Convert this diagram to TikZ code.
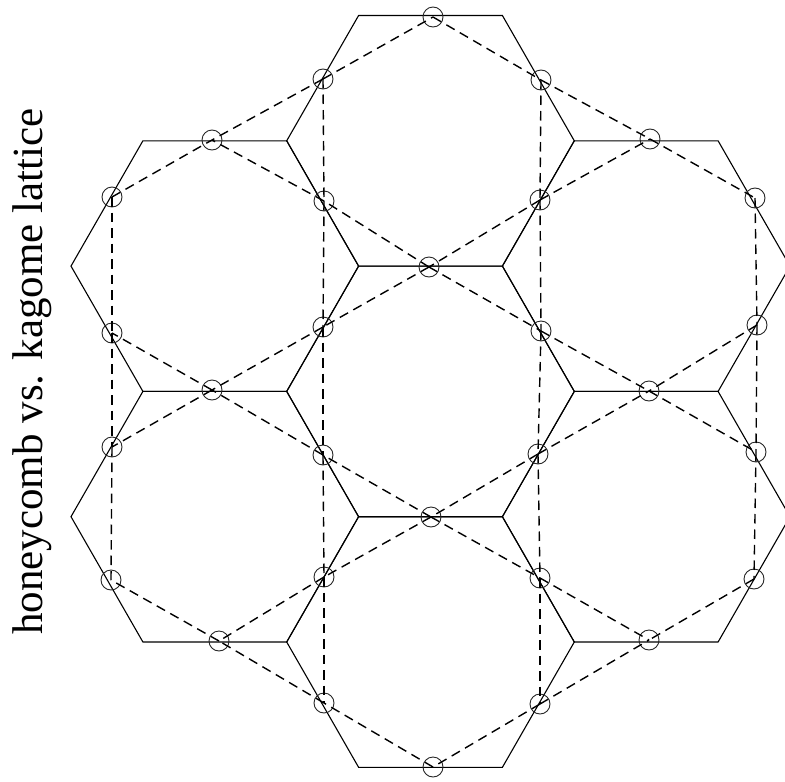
\documentclass[tikz,border=0pt]{standalone}
\usepackage{fontspec}
\setmainfont{Liberation Serif}
\begin{document}
\begin{tikzpicture}[x=1pt,y=-1pt,
  honey/.style={line width=1.1pt, line join=miter},
  kag/.style={line width=1.4pt, dash pattern=on 9.5pt off 6pt},
  site/.style={circle, draw=black!85, line width=0.9pt, minimum size=20pt, inner sep=0pt}]
\useasboundingbox (0,0) rectangle (785,782);
\clip (0,0) rectangle (785,782);
% honeycomb vertices
\foreach \c in {0,...,10}
  \foreach \r in {0,...,6}
    \coordinate (h-\c-\r) at ({71+71.9*\c},{15.5+125.3*\r});
% honeycomb hexagons
\foreach \c/\r in {5/1,5/3,5/5,2/2,2/4,8/2,8/4} {
  \pgfmathtruncatemacro\ca{\c-2}
  \pgfmathtruncatemacro\cb{\c-1}
  \pgfmathtruncatemacro\cc{\c+1}
  \pgfmathtruncatemacro\cd{\c+2}
  \pgfmathtruncatemacro\ru{\r-1}
  \pgfmathtruncatemacro\rd{\r+1}
  \draw[honey] (h-\ca-\r) -- (h-\cb-\ru) -- (h-\cc-\ru) -- (h-\cd-\r)
     -- (h-\cc-\rd) -- (h-\cb-\rd) -- cycle;
}
% kagome sites
\foreach \n/\x/\y in {10-0/433/17, 7-1/323/79, 13-1/541/80, 4-2/212/140,
  16-2/650/139, 1-3/112/197, 7-3/324/201, 13-3/540/200, 19-3/755/198,
  10-4/429/267, 1-5/112/333, 7-5/323/327, 13-5/541/331, 19-5/757/325,
  4-6/212/390, 16-6/649/391, 1-7/112/447, 7-7/323/455, 13-7/538/454,
  19-7/756/452, 10-8/431/517, 1-9/111/580, 7-9/324/577, 13-9/540/578,
  19-9/754/579, 4-10/219/641, 16-10/649/640, 7-11/324/703, 13-11/540/704,
  10-12/433/767}
  \node[site] (k\n) at (\x,\y) {};
% kagome bonds
\foreach \a/\b in {7-1/10-0, 10-0/13-1,
  7-1/7-3, 7-1/4-2, 7-3/4-2,
  13-1/13-3, 13-1/16-2, 13-3/16-2,
  10-4/7-3, 10-4/7-5, 7-3/7-5,
  13-3/10-4, 13-3/13-5, 10-4/13-5,
  7-5/7-7, 7-5/4-6, 7-7/4-6,
  13-5/13-7, 13-5/16-6, 13-7/16-6,
  10-8/7-7, 10-8/7-9, 7-7/7-9,
  13-7/10-8, 13-7/13-9, 10-8/13-9,
  7-9/7-11, 7-9/4-10, 7-11/4-10,
  13-9/13-11, 13-9/16-10, 13-11/16-10,
  13-11/10-12, 10-12/7-11,
  1-3/1-5, 1-3/4-2,
  4-6/1-5, 4-6/1-7, 1-5/1-7,
  1-7/1-9, 4-10/1-9,
  16-2/19-3, 19-3/19-5,
  19-5/16-6, 19-5/19-7, 16-6/19-7,
  19-7/19-9, 19-9/16-10}
  \draw[kag] (k\a.center) -- (k\b.center);
% title
\node[rotate=90, anchor=base west, inner sep=0pt,
      font=\fontsize{43}{50}\selectfont] (title) at (42.5,635)
      {honeycomb vs. kagome lattice};
\end{tikzpicture}
\end{document}
